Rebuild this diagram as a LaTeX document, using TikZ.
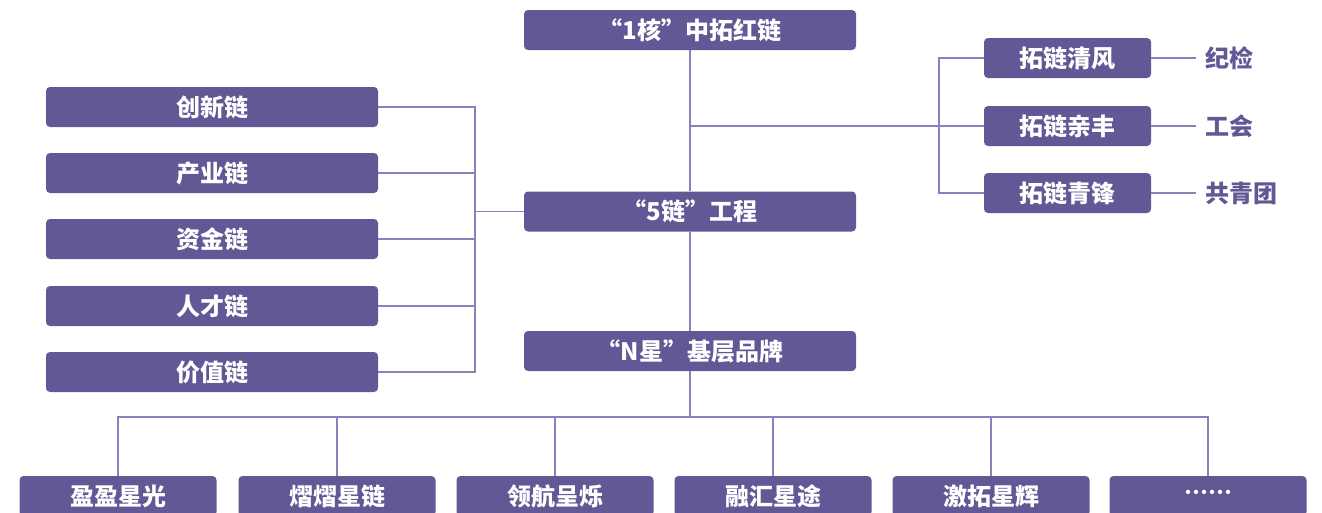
\documentclass[tikz,border=0pt]{standalone}
\usepackage{fontspec}
\setmainfont{Noto Sans CJK SC}[Script=CJK,Language=Chinese Simplified]
\definecolor{boxc}{HTML}{625896}
\definecolor{linec}{HTML}{8A80BA}
\begin{document}
\begin{tikzpicture}[x=1pt,y=-1pt,
  box/.style={fill=boxc,rounded corners=4pt,inner sep=0pt,text=white,
    font=\fontsize{24}{28}\selectfont\bfseries,minimum height=40pt},
  wide/.style={box,minimum width=332pt},
  small/.style={box,minimum width=167pt},
  bot/.style={box,minimum width=197pt},
  lab/.style={anchor=west,inner sep=0pt,text=boxc,font=\fontsize{24}{28}\selectfont\bfseries},
  conn/.style={draw=linec,line width=1.4pt}]
\useasboundingbox (0,0) rectangle (1322,512);
% main column
\node[wide] (top) at (690,30) {“1核”中拓红链};
\node[wide] (five) at (690,211.5) {“5链”工程};
\node[wide] (nstar) at (690,351) {“N星”基层品牌};
% left chains
\node[wide] (l1) at (212,107) {创新链};
\node[wide] (l2) at (212,173) {产业链};
\node[wide] (l3) at (212,239) {资金链};
\node[wide] (l4) at (212,306) {人才链};
\node[wide] (l5) at (212,372) {价值链};
% right
\node[small] (r1) at (1067.5,58) {拓链清风};
\node[small] (r2) at (1067.5,126) {拓链亲丰};
\node[small] (r3) at (1067.5,193) {拓链青锋};
\node[lab] (k1) at (1205,58) {纪检};
\node[lab] (k2) at (1205,126) {工会};
\node[lab] (k3) at (1205,193) {共青团};
% bottom
\node[bot] (b1) at (118,496) {盈盈星光};
\node[bot] (b2) at (337,496) {熠熠星链};
\node[bot] (b3) at (555,496) {领航呈烁};
\node[bot] (b4) at (773,496) {融汇星途};
\node[bot] (b5) at (991,496) {激拓星辉};
\node[bot] (b6) at (1208,496) {……};
% coordinates
\coordinate (lb) at (475,211.5);
\coordinate (rb) at (939,126);
\coordinate (bus) at (690,417);
% connectors
\draw[conn] (top.south) -- (five.north);
\draw[conn] (five.south) -- (nstar.north);
\draw[conn] (nstar.south) -- (bus);
\draw[conn] (five.west) -- (lb);
\draw[conn] (l1.east) -| (l5.east -| lb) -- (l5.east);
\draw[conn] (l2.east) -- (l2.east -| lb);
\draw[conn] (l3.east) -- (l3.east -| lb);
\draw[conn] (l4.east) -- (l4.east -| lb);
\draw[conn] (top.south |- r2.west) -- (r2.west);
\draw[conn] (r1.west) -| (r3.west -| rb) -- (r3.west);
\draw[conn] (r1.east) -- ([xshift=-9pt]k1.west);
\draw[conn] (r2.east) -- ([xshift=-9pt]k2.west);
\draw[conn] (r3.east) -- ([xshift=-9pt]k3.west);
\draw[conn] (b1.north) -- (b1.north |- bus) -- (b6.north |- bus) -- (b6.north);
\draw[conn] (b2.north) -- (b2.north |- bus);
\draw[conn] (b3.north) -- (b3.north |- bus);
\draw[conn] (b4.north) -- (b4.north |- bus);
\draw[conn] (b5.north) -- (b5.north |- bus);
\end{tikzpicture}
\end{document}
